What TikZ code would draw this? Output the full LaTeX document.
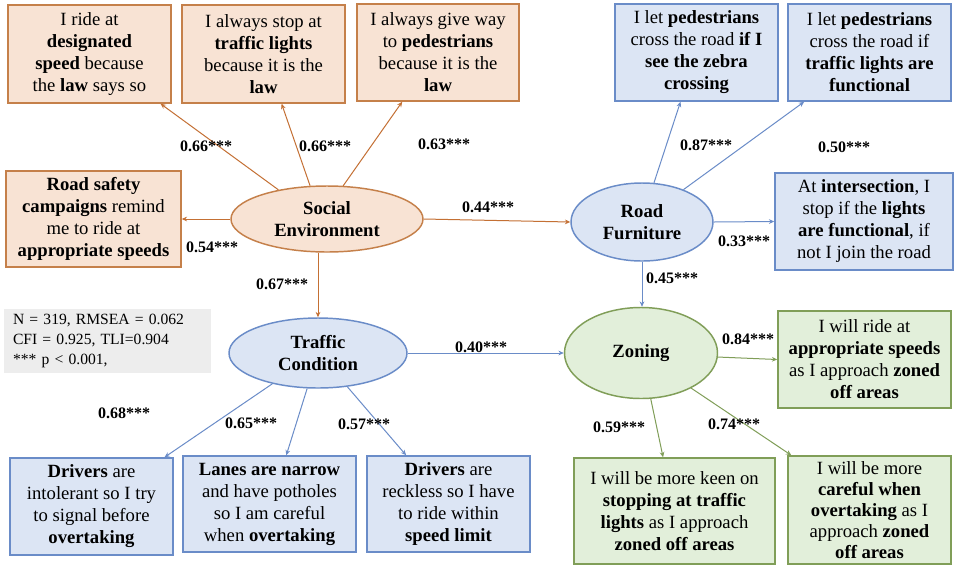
\documentclass[tikz,border=0pt]{standalone}
\usepackage{fontspec}
\setmainfont{Liberation Serif}
\usetikzlibrary{arrows.meta,shapes.geometric,calc}
\definecolor{ofill}{RGB}{248,227,212}
\definecolor{oline}{RGB}{197,128,74}
\definecolor{oarr}{RGB}{196,112,52}
\definecolor{bfill}{RGB}{220,229,244}
\definecolor{bline}{RGB}{106,140,200}
\definecolor{gfill}{RGB}{226,239,218}
\definecolor{gline}{RGB}{128,158,88}
\definecolor{sfill}{RGB}{237,237,237}
\tikzset{
 bx/.style={draw, rectangle, line width=1.1pt, align=center, inner sep=0pt, font=\fontsize{14}{16.5}\selectfont},
 sz/.style 2 args={minimum width=#1*0.75pt, minimum height=#2*0.75pt},
 obox/.style={bx, draw=oline, fill=ofill},
 bbox/.style={bx, draw=bline, fill=bfill},
 gbox/.style={bx, draw=gline, fill=gfill},
 lat/.style={ellipse, line width=1.1pt, align=center, inner sep=0pt, font=\fontsize{14}{16.5}\selectfont\bfseries},
 lbl/.style={font=\fontsize{12}{14}\selectfont\bfseries, inner sep=0pt},
 conn/.style={line width=0.75pt, -{Stealth[length=4pt,width=3.5pt]}},
}
\begin{document}
\begin{tikzpicture}[x=0.75pt,y=-0.75pt]
\useasboundingbox[fill=white] (0,0) rectangle (957,569);

% Social environment items
\node[obox, sz={163}{98}] (A) at (89.5,54) {I ride at\\\textbf{designated}\\\textbf{speed} because\\the \textbf{law} says so};
\node[obox, sz={163}{98}] (B) at (263.5,54) {I always stop at\\\textbf{traffic lights}\\because it is the\\\textbf{law}};
\node[obox, sz={162}{97}] (C) at (438,52.5) {I always give way\\to \textbf{pedestrians}\\because it is the\\\textbf{law}};
\node[obox, sz={175}{96}] (D) at (93.5,219) {\textbf{Road safety}\\\textbf{campaigns} remind\\me to ride at\\\textbf{appropriate speeds}};

% Road furniture items
\node[bbox, sz={163}{97}] (E) at (696.5,52.5) {I let \textbf{pedestrians}\\cross the road \textbf{if I}\\\textbf{see the zebra}\\\textbf{crossing}};
\node[bbox, sz={163}{97}] (F) at (869.5,52.5) {I let \textbf{pedestrians}\\cross the road if\\\textbf{traffic lights are}\\\textbf{functional}};
\node[bbox, sz={178}{97}] (G) at (864,221.5) {At \textbf{intersection}, I\\stop if the \textbf{lights}\\\textbf{are functional}, if\\not I join the road};

% Traffic condition items
\node[bbox, sz={163}{97}] (H) at (91.5,506.5) {\textbf{Drivers} are\\intolerant so I try\\to signal before\\\textbf{overtaking}};
\node[bbox, sz={173}{96}] (I) at (269.5,504) {\textbf{Lanes are narrow}\\and have potholes\\so I am careful\\when \textbf{overtaking}};
\node[bbox, sz={163}{96}] (J) at (448.5,504) {\textbf{Drivers} are\\reckless so I have\\to ride within\\\textbf{speed limit}};

% Zoning items
\node[gbox, sz={173}{97}] (K) at (864.5,359.5) {I will ride at\\\textbf{appropriate speeds}\\as I approach \textbf{zoned}\\\textbf{off areas}};
\node[gbox, sz={201}{106}] (L) at (674.5,511) {I will be more keen on\\\textbf{stopping at traffic}\\\textbf{lights} as I approach\\\textbf{zoned off areas}};
\node[gbox, sz={163}{108}, font=\fontsize{14}{15.8}\selectfont] (M) at (869.5,510) {I will be more\\\textbf{careful when}\\\textbf{overtaking} as I\\approach \textbf{zoned}\\\textbf{off areas}};

% stats
\node[fill=sfill, sz={207}{64}, inner sep=0pt, align=left, text width=141.75pt, font=\fontsize{11.7}{15}\selectfont] (S) at (107.5,341) {N = 319, RMSEA = 0.062\\CFI = 0.925, TLI=0.904\\\relax *** p < 0.001,};

% latent variables
\node[lat, draw=oline, fill=ofill, sz={192}{66}] (SE) at (327,219) {Social\\Environment};
\node[lat, draw=bline, fill=bfill, sz={142}{78}] (RF) at (642,222) {Road\\Furniture};
\node[lat, draw=bline, fill=bfill, sz={178}{70}] (TC) at (318,353) {Traffic\\Condition};
\node[lat, draw=gline, fill=gfill, sz={153}{91}] (Z) at (641,353) {Zoning};

% connectors
\draw[conn, oarr] (SE.149) -- (A.-35);
\draw[conn, oarr] (SE.117) -- (B.-70);
\draw[conn, oarr] (SE.64) -- (C.-126);
\draw[conn, oarr] (SE.west) -- (D.east);
\draw[conn, oarr] (SE.south -| TC.north) -- (TC.north);
\draw[conn, oarr] (SE.east) -- (RF.west);

\draw[conn, bline] (RF.73) -- (E.-108);
\draw[conn, bline] (RF.38) -- (F.-143);
\draw[conn, bline] (RF.east) -- (G.west);
\draw[conn, bline] (RF.south) -- (RF.south |- Z.north);

\draw[conn, bline] (TC.east) -- (Z.west);
\draw[conn, bline] (TC.214) -- (H.34);
\draw[conn, bline] (TC.253) -- (I.71);
\draw[conn, bline] (TC.-49) -- (J.131.5);

\draw[conn, gline] (Z.-3) -- (K.west);
\draw[conn, gline] (Z.-78) -- (L.102);
\draw[conn, gline] (Z.-35) -- (M.145);

% labels
\node[lbl] (l1) at (206,146) {0.66***};
\node[lbl] (l2) at (325,146) {0.66***};
\node[lbl] (l3) at (444,144) {0.63***};
\node[lbl] (l4) at (212,247) {0.54***};
\node[lbl] (l5) at (488,207) {0.44***};
\node[lbl] (l6) at (282,284) {0.67***};
\node[lbl] (l7) at (706,145) {0.87***};
\node[lbl] (l8) at (844,147) {0.50***};
\node[lbl] (l9) at (744,241) {0.33***};
\node[lbl] (l10) at (672,278) {0.45***};
\node[lbl] (l11) at (481,347) {0.40***};
\node[lbl] (l12) at (124,413) {0.68***};
\node[lbl] (l13) at (251,423) {0.65***};
\node[lbl] (l14) at (364,424) {0.57***};
\node[lbl] (l15) at (748,339) {0.84***};
\node[lbl] (l16) at (619,427) {0.59***};
\node[lbl] (l17) at (734,424) {0.74***};
\end{tikzpicture}
\end{document}
